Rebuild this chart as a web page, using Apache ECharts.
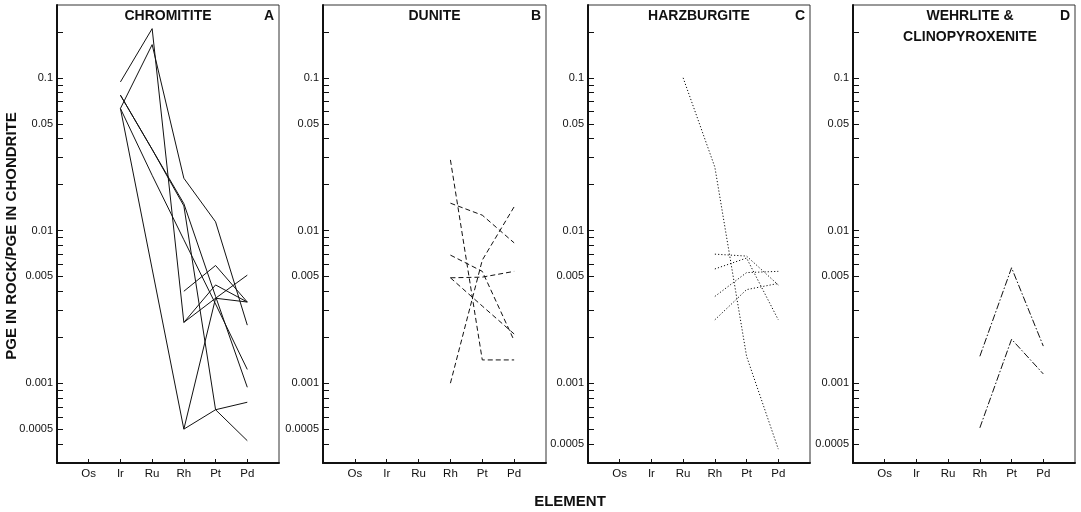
<!DOCTYPE html>
<html>
<head>
<meta charset="utf-8">
<script src="https://cdn.jsdelivr.net/npm/echarts@6/dist/echarts.min.js"></script>
<style>
html,body{margin:0;padding:0;background:#fff;}
#chart{width:1081px;height:512px;}
</style>
</head>
<body>
<div id="chart"></div>
<script>
// ---- data ----
const elements = ['Os', 'Ir', 'Ru', 'Rh', 'Pt', 'Pd'];
const yTickValues = [0.2, 0.1, 0.09, 0.08, 0.07, 0.06, 0.05, 0.04, 0.03, 0.02,
  0.01, 0.009, 0.008, 0.007, 0.006, 0.005, 0.004, 0.003, 0.002,
  0.001, 0.0009, 0.0008, 0.0007, 0.0006, 0.0005, 0.0004];
const yLabelValues = [0.1, 0.05, 0.01, 0.005, 0.001, 0.0005];
const panelTitles = [['CHROMITITE'], ['DUNITE'], ['HARZBURGITE'], ['WEHRLITE &', 'CLINOPYROXENITE']];
const panelLetters = ['A', 'B', 'C', 'D'];
// values per line: [Os, Ir, Ru, Rh, Pt, Pd]
const chromitite = [
  [null, 0.094, 0.21, 0.0025, 0.0044, 0.0034],
  [null, 0.063, 0.165, 0.022, 0.0114, 0.0024],
  [null, 0.063, 0.0056, 0.0005, 0.00067, 0.00075],
  [null, 0.077, 0.034, 0.015, 0.0037, 0.00094],
  [null, 0.063, 0.023, 0.0087, 0.0033, 0.00123],
  [null, null, null, 0.0040, 0.0059, 0.0034],
  [null, null, null, 0.0025, 0.0036, 0.0051],
  [null, null, null, 0.0005, 0.0036, 0.0034],
  [null, 0.077, 0.034, 0.0145, 0.00067, 0.00042]
];
const dunite = [
  [null, null, null, 0.029, 0.00142, 0.00142],
  [null, null, null, 0.0151, 0.0126, 0.0083],
  [null, null, null, 0.0010, 0.0064, 0.0143],
  [null, null, null, 0.0069, 0.0054, 0.0019],
  [null, null, null, 0.0049, 0.00495, 0.0054],
  [null, null, null, 0.0049, 0.0032, 0.0021]
];
const harzburgite = [
  [null, null, 0.1, 0.026, 0.0015, 0.00037],
  [null, null, null, 0.0070, 0.0068, 0.0044],
  [null, null, null, 0.0056, 0.0066, 0.0026],
  [null, null, null, 0.0037, 0.0053, 0.0054],
  [null, null, null, 0.0026, 0.0041, 0.0045]
];
const wehrlite = [
  [null, null, null, 0.0015, 0.0057, 0.00175],
  [null, null, null, 0.00051, 0.00194, 0.00115]
];
const panelData = [chromitite, dunite, harzburgite, wehrlite];
const panelDash = ['solid', [5, 3], [1.2, 2], [7, 2, 1.5, 2]];

// ---- layout ----
const grids = [
  { left: 57, top: 5, width: 222, height: 458 },
  { left: 323, top: 5, width: 223, height: 458 },
  { left: 588, top: 5, width: 222, height: 458 },
  { left: 853, top: 5, width: 222, height: 458 }
];
const FONT = '"Liberation Sans", Arial, Helvetica, sans-serif';

const option = {
  animation: false,
  backgroundColor: '#fff',
  grid: grids.map(g => Object.assign({ show: true, borderColor: '#333', borderWidth: 1, containLabel: false }, g)),
  xAxis: grids.map((g, i) => ({
    type: 'value', gridIndex: i, min: 0, max: elements.length + 1, interval: 1,
    axisLine: { show: true, onZero: false, lineStyle: { color: '#111', width: 2 } },
    axisTick: { show: true, inside: true, length: 4, customValues: elements.map((e, k) => k + 1), lineStyle: { color: '#111' } },
    axisLabel: { show: true, customValues: elements.map((e, k) => k + 1), formatter: v => elements[v - 1] || '', color: '#111', fontSize: 11.5, fontFamily: FONT, margin: 5 },
    splitLine: { show: false }
  })),
  yAxis: grids.map((g, i) => ({
    type: 'log', logBase: 10, gridIndex: i, min: 0.0003, max: 0.3,
    axisLine: { show: true, lineStyle: { color: '#111', width: 2 } },
    axisTick: { show: true, inside: true, length: 6, customValues: yTickValues, lineStyle: { color: '#111' } },
    axisLabel: {
      show: true,
      customValues: (i >= 2) ? yLabelValues.map(v => v === 0.0005 ? 0.0004 : v) : yLabelValues,
      formatter: v => (i >= 2 && Math.abs(v - 0.0004) < 1e-9) ? '0.0005' : String(+v.toPrecision(3)),
      color: '#111', fontSize: 11, fontFamily: FONT, margin: 4
    },
    splitLine: { show: false },
    minorTick: { show: false }
  })),
  series: [],
  graphic: []
};

panelData.forEach((lines, p) => {
  lines.forEach((vals, li) => {
    option.series.push({
      type: 'line', xAxisIndex: p, yAxisIndex: p, symbol: 'none', silent: true,
      lineStyle: { color: '#111', width: 1, type: panelDash[p] },
      data: vals.map((v, k) => v == null ? null : [k + 1, v]).filter(d => d)
    });
  });
});

// panel titles and letters
grids.forEach((g, p) => {
  panelTitles[p].forEach((t, k) => {
    option.graphic.push({
      type: 'text', x: g.left + g.width / 2 + (p === 3 ? 6 : 0), y: 16 + k * 21,
      style: { text: t, font: 'bold 14px ' + FONT, fill: '#111', align: 'center', verticalAlign: 'middle' }
    });
  });
  option.graphic.push({
    type: 'text', x: g.left + g.width - 10, y: 16,
    style: { text: panelLetters[p], font: 'bold 14px ' + FONT, fill: '#111', align: 'center', verticalAlign: 'middle' }
  });
});
option.graphic.push({
  type: 'text', x: 12, y: 236, rotation: Math.PI / 2,
  style: { text: 'PGE IN ROCK/PGE IN CHONDRITE', font: 'bold 15px ' + FONT, fill: '#111', align: 'center', verticalAlign: 'middle' }
});
option.graphic.push({
  type: 'text', x: 570, y: 502,
  style: { text: 'ELEMENT', font: 'bold 15px ' + FONT, fill: '#111', align: 'center', verticalAlign: 'middle' }
});

const chart = echarts.init(document.getElementById('chart'), null, { renderer: 'canvas' });
chart.setOption(option);
</script>
</body>
</html>
